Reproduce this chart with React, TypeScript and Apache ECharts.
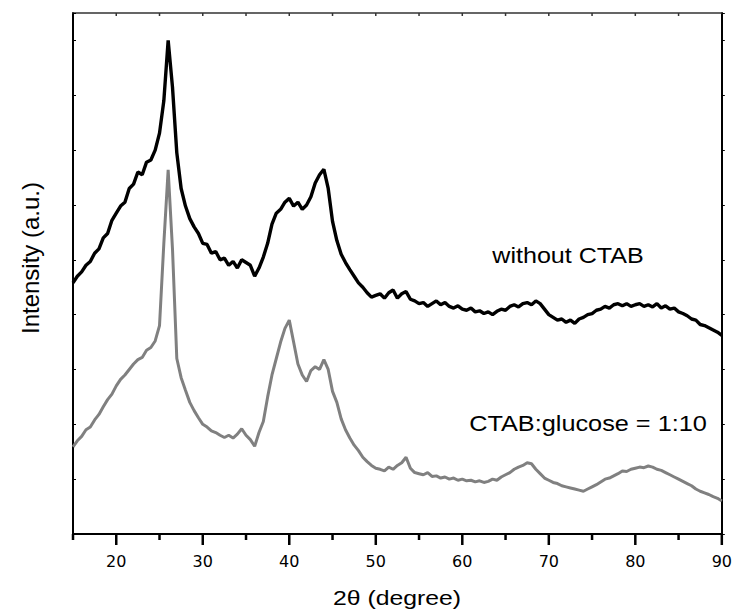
import React, { useEffect, useRef } from "react";
import * as echarts from "echarts";

// 2θ positions (degree)
const twoTheta: number[] = [];
for (let i = 0; i <= 150; i++) twoTheta.push(15 + i * 0.5);

// Intensity (a.u.), one value per 0.5° step from 15 to 90
const withoutCTAB: number[] = [
  458, 470, 478, 490, 497, 512, 520, 540, 548, 572,
  585, 598, 605, 630, 638, 660, 655, 678, 682, 700,
  731, 790, 900, 815, 695, 630, 598, 575, 560, 548,
  530, 528, 512, 515, 500, 503, 490, 497, 485, 500,
  495, 490, 470, 485, 505, 530, 565, 585, 592, 605,
  612, 598, 605, 592, 600, 615, 640, 655, 665, 630,
  570, 535, 510, 495, 482, 470, 458, 450, 440, 432,
  435, 438, 430, 440, 445, 430, 438, 442, 428, 425,
  420, 422, 415, 420, 425, 418, 422, 415, 412, 416,
  410, 408, 412, 405, 407, 402, 405, 400, 406, 410,
  408, 415, 418, 414, 420, 422, 418, 425, 420, 410,
  400, 395, 390, 392, 386, 390, 384, 392, 395, 400,
  402, 408, 410, 415, 412, 418, 420, 416, 420, 415,
  418, 420, 415, 418, 414, 420, 412, 416, 410, 412,
  405, 402, 398, 392, 390, 382, 380, 376, 372, 368,
  362,
];

const ctabGlucose: number[] = [
  159, 170, 178, 190, 195, 208, 218, 232, 245, 255,
  270, 282, 290, 300, 310, 318, 322, 335, 340, 352,
  380, 530, 664, 520, 320, 285, 262, 240, 225, 212,
  200, 195, 188, 185, 180, 176, 180, 175, 182, 192,
  180, 172, 160, 185, 205, 250, 290, 320, 350, 375,
  390, 350, 310, 290, 278, 298, 305, 300, 318, 300,
  260, 240, 210, 190, 175, 162, 152, 140, 132, 125,
  120, 118, 115, 122, 118, 125, 130, 140, 120, 112,
  110, 108, 112, 105, 106, 102, 104, 100, 102, 98,
  100, 97, 98, 95, 97, 94, 96, 100, 98, 104,
  108, 112, 118, 122, 125, 130, 128, 118, 110, 102,
  98, 94, 92, 88, 86, 84, 82, 80, 78, 82,
  86, 90, 95, 100, 102, 106, 110, 115, 114, 118,
  120, 122, 121, 124, 122, 118, 116, 112, 108, 104,
  100, 96, 92, 88, 82, 78, 75, 72, 68, 65,
  60,
];

// x-axis tick positions (2θ)
const majorXTicks: number[] = [20, 30, 40, 50, 60, 70, 80, 90];
const minorXTicks: number[] = [15, 25, 35, 45, 55, 65, 75, 85];
const topXTicks: number[] = [20, 25, 30, 35, 40, 45, 50, 55, 60, 65, 70, 75, 80, 85];

const Y_MIN = 0;
const Y_MAX = 950;

const xTitle = "2θ (degree)";
const yTitle = "Intensity (a.u.)";
const label1 = "without CTAB";
const label2 = "CTAB:glucose = 1:10";

export default function App() {
  const ref = useRef<HTMLDivElement>(null);

  useEffect(() => {
    if (!ref.current) return;
    const chart = echarts.init(ref.current, null, { renderer: "svg" });
    const pair = (ys: number[]) => ys.map((y, i) => [twoTheta[i], y]);
    const tickFont = { fontFamily: "DejaVu Sans", fontSize: 16, color: "#000" };

    // tick marks drawn through the axes' own scales
    const tickSeries = (xs: number[], yv: number, len: number, width: number, dir: number, color: string) => ({
      type: "custom",
      data: xs.map((x) => [x, yv]),
      silent: true,
      clip: false,
      z: 10,
      renderItem: (params: any, api: any) => {
        const p = api.coord([api.value(0), api.value(1)]);
        return {
          type: "line",
          shape: { x1: p[0], y1: p[1], x2: p[0], y2: p[1] + dir * len },
          style: { stroke: color, lineWidth: width },
        };
      },
    });

    chart.setOption({
      animation: false,
      backgroundColor: "#fff",
      grid: { left: 73, right: 13, top: 13, bottom: 77, containLabel: false },
      xAxis: [
        {
          type: "value",
          min: 15,
          max: 90,
          interval: 5,
          position: "bottom",
          axisLine: { show: true, onZero: false, lineStyle: { color: "#000", width: 2 } },
          axisTick: { show: false },
          axisLabel: {
            show: true,
            margin: 19,
            formatter: (v: number) => (v % 10 === 0 ? String(v) : ""),
            ...tickFont,
          },
          splitLine: { show: false },
        },
        {
          type: "value",
          min: 15,
          max: 90,
          interval: 5,
          position: "top",
          axisLine: { show: true, onZero: false, lineStyle: { color: "#333", width: 1.5 } },
          axisTick: { show: false },
          axisLabel: { show: false },
          splitLine: { show: false },
        },
      ],
      yAxis: [
        {
          type: "value",
          min: Y_MIN,
          max: Y_MAX,
          interval: 100,
          position: "left",
          axisLine: { show: true, onZero: false, lineStyle: { color: "#000", width: 2 } },
          axisTick: { show: true, inside: true, length: 3, lineStyle: { color: "#000", width: 1 } },
          axisLabel: { show: false },
          splitLine: { show: false },
        },
        {
          type: "value",
          min: Y_MIN,
          max: Y_MAX,
          interval: 100,
          position: "right",
          axisLine: { show: true, onZero: false, lineStyle: { color: "#000", width: 2 } },
          axisTick: { show: true, inside: false, length: 3, lineStyle: { color: "#000", width: 1 } },
          axisLabel: { show: false },
          splitLine: { show: false },
        },
      ],
      series: [
        {
          name: label2,
          type: "line",
          data: pair(ctabGlucose),
          showSymbol: false,
          lineStyle: { color: "#808080", width: 3 },
          z: 2,
        },
        {
          name: label1,
          type: "line",
          data: pair(withoutCTAB),
          showSymbol: false,
          lineStyle: { color: "#000", width: 3.4 },
          z: 3,
        },
        tickSeries(majorXTicks, Y_MIN, 11, 2.5, 1, "#000"),
        tickSeries(minorXTicks, Y_MIN, 6, 2.5, 1, "#000"),
        tickSeries(topXTicks, Y_MAX, 3, 1.5, 1, "#333"),
      ],
      graphic: [
        {
          type: "text",
          x: 397,
          y: 598,
          scaleX: 1.18,
          style: { text: xTitle, fontFamily: "Liberation Sans", fontSize: 21, fill: "#000", align: "center", verticalAlign: "middle" },
        },
        {
          type: "text",
          x: 30,
          y: 258,
          rotation: Math.PI / 2,
          style: { text: yTitle, fontFamily: "Liberation Sans", fontSize: 24, fill: "#000", align: "center", verticalAlign: "middle" },
        },
        {
          type: "text",
          x: 568,
          y: 256,
          scaleX: 1.14,
          style: { text: label1, fontFamily: "Liberation Sans", fontSize: 22, fill: "#000", align: "center", verticalAlign: "middle" },
        },
        {
          type: "text",
          x: 588,
          y: 424,
          scaleX: 1.15,
          style: { text: label2, fontFamily: "Liberation Sans", fontSize: 22, fill: "#000", align: "center", verticalAlign: "middle" },
        },
      ],
    });

    return () => chart.dispose();
  }, []);

  return <div ref={ref} style={{ width: 735, height: 611, position: "absolute", left: 0, top: 0 }} />;
}
